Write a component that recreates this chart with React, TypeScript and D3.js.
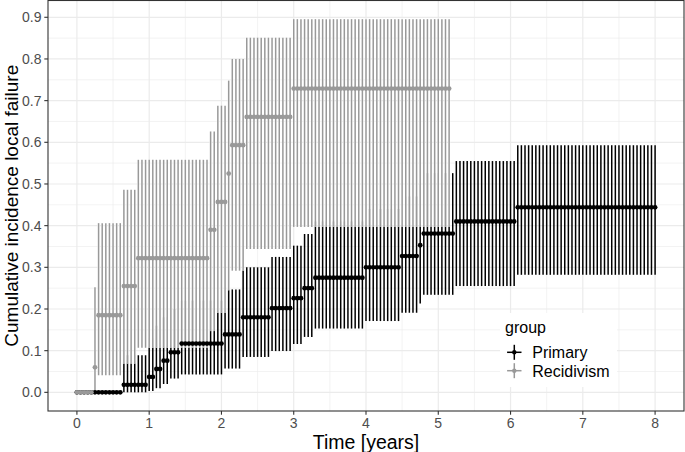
import React from "react";
import * as d3 from "d3";

// ---- Data (step intervals of the cumulative incidence, evaluated every 0.05 years) ----
const STEP = 0.05;

const primaryStart = [0, 0.65, 1.0, 1.1, 1.2, 1.3, 1.45, 2.05, 2.3, 2.7, 3.0, 3.15, 3.3, 4.0, 4.5, 4.75, 4.8, 5.25, 6.1];
const primaryEnd = [0.6, 0.95, 1.05, 1.15, 1.25, 1.4, 2.0, 2.25, 2.65, 2.95, 3.1, 3.25, 3.95, 4.45, 4.7, 4.75, 5.2, 6.05, 8.0];
const primaryEst = [0, 0.018, 0.037, 0.056, 0.076, 0.096, 0.117, 0.139, 0.18, 0.202, 0.226, 0.25, 0.275, 0.3, 0.327, 0.353, 0.381, 0.41, 0.444];
const primaryLo = [0, 0, 0.003, 0.01, 0.02, 0.033, 0.043, 0.057, 0.085, 0.099, 0.116, 0.133, 0.153, 0.171, 0.191, 0.213, 0.234, 0.255, 0.282];
const primaryHi = [0, 0.089, 0.13, 0.16, 0.18, 0.2, 0.22, 0.247, 0.3, 0.325, 0.352, 0.38, 0.41, 0.44, 0.47, 0.5, 0.526, 0.555, 0.593];

const recidStart = [0, 0.25, 0.3, 0.65, 0.85, 1.85, 1.95, 2.1, 2.15, 2.35, 3.0];
const recidEnd = [0.2, 0.25, 0.6, 0.8, 1.8, 1.9, 2.05, 2.1, 2.3, 2.95, 5.15];
const recidEst = [0, 0.06, 0.185, 0.255, 0.322, 0.39, 0.457, 0.525, 0.593, 0.661, 0.729];
const recidLo = [0, 0, 0.041, 0.069, 0.107, 0.147, 0.191, 0.245, 0.292, 0.344, 0.397];
const recidHi = [0, 0.252, 0.406, 0.486, 0.558, 0.626, 0.688, 0.748, 0.8, 0.851, 0.8955];

const xTicks = [0, 1, 2, 3, 4, 5, 6, 7, 8];
const yTicks = [0, 0.1, 0.2, 0.3, 0.4, 0.5, 0.6, 0.7, 0.8, 0.9];
const groups = ["Primary", "Recidivism"];
const groupColors = ["#000000", "#999999"];

type Pt = { t: number; est: number; lo: number; hi: number };

function expand(start: number[], end: number[], est: number[], lo: number[], hi: number[]): Pt[] {
  const out: Pt[] = [];
  start.forEach((s, i) => {
    const a = Math.round(s / STEP);
    const b = Math.round(end[i] / STEP);
    d3.range(a, b + 1).forEach((k) => out.push({ t: k * STEP, est: est[i], lo: lo[i], hi: hi[i] }));
  });
  return out;
}

const primary = expand(primaryStart, primaryEnd, primaryEst, primaryLo, primaryHi);
const recid = expand(recidStart, recidEnd, recidEst, recidLo, recidHi);
const series = [primary, recid];

export default function App() {
  const W = 685, H = 452;
  const left = 48, right = 684, top = 0.5, bottom = 411;
  const x = d3.scaleLinear().domain([-0.4, 8.4]).range([left, right]);
  const allHi = d3.max([...primary, ...recid], (d) => d.hi) as number;
  const pad = allHi * 0.05;
  const y = d3.scaleLinear().domain([-pad, allHi + pad]).range([bottom, top]);

  const xMinor = d3.range(0.5, 8, 1);
  const yMinor = d3.range(0.05, 0.9, 0.1);
  const font = "'Liberation Sans', Arial, Helvetica, sans-serif";
  const fmt = d3.format(".1f");
  const barW = 1.5;

  return (
    <div style={{ position: "absolute", left: 0, top: 0 }}>
      <svg width={W} height={H} style={{ display: "block", fontFamily: font }}>
        <rect x={0} y={0} width={W} height={H} fill="#fff" />
        {/* grid */}
        {xMinor.map((v) => (
          <line key={"xm" + v} x1={x(v)} x2={x(v)} y1={top} y2={bottom} stroke="#EBEBEB" strokeWidth={0.6} />
        ))}
        {yMinor.map((v) => (
          <line key={"ym" + v} x1={left} x2={right} y1={y(v)} y2={y(v)} stroke="#EBEBEB" strokeWidth={0.6} />
        ))}
        {xTicks.map((v) => (
          <line key={"xg" + v} x1={x(v)} x2={x(v)} y1={top} y2={bottom} stroke="#EBEBEB" strokeWidth={1.2} />
        ))}
        {yTicks.map((v) => (
          <line key={"yg" + v} x1={left} x2={right} y1={y(v)} y2={y(v)} stroke="#EBEBEB" strokeWidth={1.2} />
        ))}
        {/* error bars: Primary first, Recidivism drawn on top */}
        {series.map((s, gi) => (
          <g key={"eb" + gi}>
            {gi > 0 && (
              <g stroke="#ffffff" strokeWidth={barW + 0.8}>
                {s.filter((d) => d.hi > d.lo).map((d, i) => (
                  <line key={i} x1={x(d.t)} x2={x(d.t)} y1={y(d.lo)} y2={y(d.hi)} />
                ))}
              </g>
            )}
            <g stroke={groupColors[gi]} strokeWidth={barW}>
              {s.filter((d) => d.hi > d.lo).map((d, i) => (
                <line key={i} x1={x(d.t)} x2={x(d.t)} y1={y(d.lo)} y2={y(d.hi)} />
              ))}
            </g>
          </g>
        ))}
        {/* points */}
        {series.map((s, gi) => (
          <g key={"pt" + gi} fill={groupColors[gi]}>
            {s.map((d, i) => (
              <circle key={i} cx={x(d.t)} cy={y(d.est)} r={2.4} />
            ))}
          </g>
        ))}
        {/* panel border */}
        <rect x={left} y={top} width={right - left} height={bottom - top} fill="none" stroke="#333333" strokeWidth={1.1} />
        {/* x axis */}
        {xTicks.map((v) => (
          <g key={"xt" + v}>
            <line x1={x(v)} x2={x(v)} y1={bottom} y2={bottom + 3.7} stroke="#333333" strokeWidth={1.1} />
            <text x={x(v)} y={427.5} textAnchor="middle" fontSize={14} fill="#4D4D4D">{v}</text>
          </g>
        ))}
        {/* y axis */}
        {yTicks.map((v) => (
          <g key={"yt" + v}>
            <line x1={left - 3.7} x2={left} y1={y(v)} y2={y(v)} stroke="#333333" strokeWidth={1.1} />
            <text x={41.5} y={y(v)} dy="0.36em" textAnchor="end" fontSize={14} fill="#4D4D4D">{fmt(v)}</text>
          </g>
        ))}
        <text x={(left + right) / 2} y={448.5} textAnchor="middle" fontSize={19.5} fill="#000">Time [years]</text>
        <text transform={`translate(17.5, ${(top + bottom) / 2}) rotate(-90)`} textAnchor="middle" fontSize={19} fill="#000">
          Cumulative incidence local failure
        </text>
        {/* legend */}
        <rect x={500} y={313} width={117} height={74} fill="#fff" />
        <text x={505} y={333.3} fontSize={16} fill="#000">group</text>
        {groups.map((g, i) => {
          const cy = 352.3 + i * 18.4;
          const cx = 514.3;
          return (
            <g key={g}>
              <line x1={cx} x2={cx} y1={cy - 7.5} y2={cy + 7.5} stroke={groupColors[i]} strokeWidth={1.5} />
              <line x1={cx - 7.2} x2={cx + 7.2} y1={cy} y2={cy} stroke={groupColors[i]} strokeWidth={1.5} />
              <circle cx={cx} cy={cy} r={2.2} fill={groupColors[i]} />
              <text x={532.3} y={cy + 5.8} fontSize={16} fill="#000">{g}</text>
            </g>
          );
        })}
      </svg>
    </div>
  );
}
